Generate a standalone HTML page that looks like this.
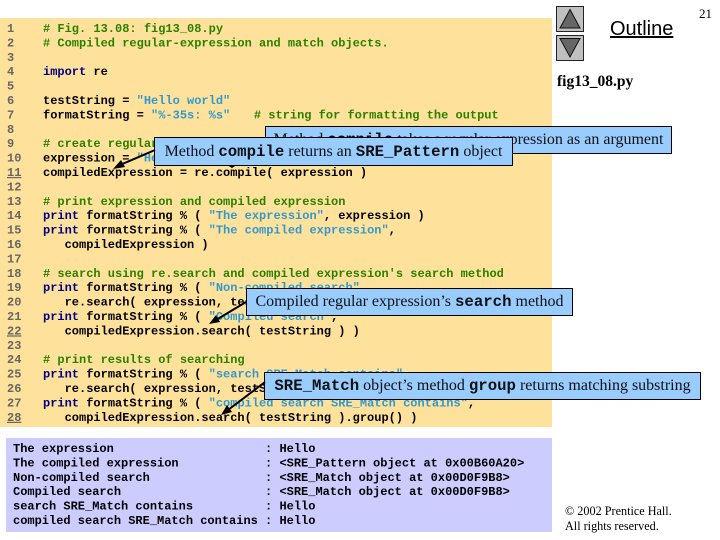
<!DOCTYPE html>
<html>
<head>
<meta charset="utf-8">
<style>
html,body{margin:0;padding:0;background:#fff;}
#p{position:relative;width:720px;height:540px;overflow:hidden;background:#fff;}
svg{position:absolute;left:0;top:0;}
.c{font:bold 12px "Liberation Mono",monospace;white-space:pre;fill:#000;}
.n{fill:#666;}
.g{fill:#2a8000;}
.k{fill:#000080;}
.s{fill:#3399cc;}
.b{position:absolute;box-sizing:border-box;background:#99ccff;border:1px solid #000;font:16px/1 "Liberation Serif",serif;color:#111;white-space:nowrap;text-align:center;}
.b b{font:bold 15.7px/1 "Liberation Mono",monospace;color:#111;}
.t{position:absolute;white-space:nowrap;color:#000;}
</style>
</head>
<body>
<div id="p">
<svg width="720" height="540" xmlns="http://www.w3.org/2000/svg">
<rect x="0" y="18" width="552" height="409" fill="#fee29b"/>
<rect x="6" y="438" width="546" height="94" fill="#ccccff"/>
<g class="c">
<text class="c n" x="7" y="32">1</text>
<text class="c n" x="7" y="46.4">2</text>
<text class="c n" x="7" y="60.8">3</text>
<text class="c n" x="7" y="75.2">4</text>
<text class="c n" x="7" y="89.6">5</text>
<text class="c n" x="7" y="104">6</text>
<text class="c n" x="7" y="118.4">7</text>
<text class="c n" x="7" y="132.8">8</text>
<text class="c n" x="7" y="147.2">9</text>
<text class="c n" x="7" y="161.6">10</text>
<text class="c n" x="7" y="176" text-decoration="underline">11</text>
<text class="c n" x="7" y="190.4">12</text>
<text class="c n" x="7" y="204.8">13</text>
<text class="c n" x="7" y="219.2">14</text>
<text class="c n" x="7" y="233.6">15</text>
<text class="c n" x="7" y="248">16</text>
<text class="c n" x="7" y="262.4">17</text>
<text class="c n" x="7" y="276.8">18</text>
<text class="c n" x="7" y="291.2">19</text>
<text class="c n" x="7" y="305.6">20</text>
<text class="c n" x="7" y="320">21</text>
<text class="c n" x="7" y="334.4" text-decoration="underline">22</text>
<text class="c n" x="7" y="348.8">23</text>
<text class="c n" x="7" y="363.2">24</text>
<text class="c n" x="7" y="377.6">25</text>
<text class="c n" x="7" y="392">26</text>
<text class="c n" x="7" y="406.4">27</text>
<text class="c n" x="7" y="420.8" text-decoration="underline">28</text>

<text class="c g" x="43" y="32"># Fig. 13.08: fig13_08.py</text>
<text class="c g" x="43" y="46.4"># Compiled regular-expression and match objects.</text>
<text class="c" x="43" y="75.2"><tspan class="k">import</tspan> re</text>
<text class="c" x="43" y="104">testString = <tspan class="s">"Hello world"</tspan></text>
<text class="c" x="43" y="118.4">formatString = <tspan class="s">"%-35s: %s"</tspan>   <tspan class="g" dx="2"># string for formatting the output</tspan></text>
<text class="c g" x="43" y="147.2"># create regular expression and compiled expression</text>
<text class="c" x="43" y="161.6">expression = <tspan class="s">"Hello"</tspan></text>
<text class="c" x="43" y="176">compiledExpression = re.compile( expression )</text>
<text class="c g" x="43" y="204.8"># print expression and compiled expression</text>
<text class="c" x="43" y="219.2"><tspan class="k">print</tspan> formatString % ( <tspan class="s">"The expression"</tspan>, expression )</text>
<text class="c" x="43" y="233.6"><tspan class="k">print</tspan> formatString % ( <tspan class="s">"The compiled expression"</tspan>,</text>
<text class="c" x="43" y="248">   compiledExpression )</text>
<text class="c g" x="43" y="276.8"># search using re.search and compiled expression's search method</text>
<text class="c" x="43" y="291.2"><tspan class="k">print</tspan> formatString % ( <tspan class="s">"Non-compiled search"</tspan>,</text>
<text class="c" x="43" y="305.6">   re.search( expression, testString ) )</text>
<text class="c" x="43" y="320"><tspan class="k">print</tspan> formatString % ( <tspan class="s">"Compiled search"</tspan>,</text>
<text class="c" x="43" y="334.4">   compiledExpression.search( testString ) )</text>
<text class="c g" x="43" y="363.2"># print results of searching</text>
<text class="c" x="43" y="377.6"><tspan class="k">print</tspan> formatString % ( <tspan class="s">"search SRE_Match contains"</tspan>,</text>
<text class="c" x="43" y="392">   re.search( expression, testString ).group() )</text>
<text class="c" x="43" y="406.4"><tspan class="k">print</tspan> formatString % ( <tspan class="s">"compiled search SRE_Match contains"</tspan>,</text>
<text class="c" x="43" y="420.8">   compiledExpression.search( testString ).group() )</text>

<text class="c" x="13" y="452">The expression                     : Hello</text>
<text class="c" x="13" y="466.4">The compiled expression            : &lt;SRE_Pattern object at 0x00B60A20&gt;</text>
<text class="c" x="13" y="480.8">Non-compiled search                : &lt;SRE_Match object at 0x00D0F9B8&gt;</text>
<text class="c" x="13" y="495.2">Compiled search                    : &lt;SRE_Match object at 0x00D0F9B8&gt;</text>
<text class="c" x="13" y="509.6">search SRE_Match contains          : Hello</text>
<text class="c" x="13" y="524">compiled search SRE_Match contains : Hello</text>
</g>

<rect x="556.5" y="6.5" width="27" height="25" fill="#c0c0c0" stroke="#222"/>
<polygon points="570,9.5 580,28 560,28" fill="#666" stroke="#111"/>
<rect x="556.5" y="35.5" width="27" height="25" fill="#c0c0c0" stroke="#222"/>
<polygon points="560,38.5 580,38.5 570,57" fill="#666" stroke="#111"/>
</svg>

<div class="b" style="left:265px;top:126px;width:407px;height:28px;line-height:26px;">Method <b>compile</b> takes a regular expression as an argument</div>
<svg width="720" height="540" xmlns="http://www.w3.org/2000/svg">
<line x1="232" y1="152" x2="232" y2="166" stroke="#000" stroke-width="2"/>
<polygon points="227,165 238,164 232,168" fill="#000"/>
</svg>
<div class="b" style="left:154px;top:137px;width:359px;height:29px;line-height:27px;">Method <b>compile</b> returns an <b>SRE_Pattern</b> object</div>
<div class="b" style="left:246px;top:288px;width:327px;height:28px;line-height:26px;">Compiled regular expression’s <b>search</b> method</div>
<div class="b" style="left:264px;top:372px;width:437px;height:28px;line-height:26px;"><b>SRE_Match</b> object’s method <b>group</b> returns matching substring</div>

<svg width="720" height="540" xmlns="http://www.w3.org/2000/svg">
<line x1="155" y1="150" x2="120" y2="165" stroke="#000" stroke-width="2"/>
<polygon points="113,169 121,160 125,167" fill="#000"/>
<line x1="246" y1="302" x2="216" y2="320" stroke="#000" stroke-width="2"/>
<polygon points="209,324 216,315 220,322" fill="#000"/>
<line x1="265" y1="382" x2="228" y2="410" stroke="#000" stroke-width="2"/>
<polygon points="221,415 227,405 232,412" fill="#000"/>
</svg>

<div class="t" style="left:610px;top:17px;font:20px/24px 'Liberation Sans',sans-serif;text-decoration:underline;">Outline</div>
<div class="t" style="left:699px;top:7px;font:13px/14px 'Liberation Serif',serif;">21</div>
<div class="t" style="left:557px;top:73px;font:bold 15.5px/18px 'Liberation Serif',serif;">fig13_08.py</div>
<div class="t" style="left:565px;top:504px;font:12.2px/15px 'Liberation Serif',serif;">© 2002 Prentice Hall.<br>All rights reserved.</div>
</div>
</body>
</html>
